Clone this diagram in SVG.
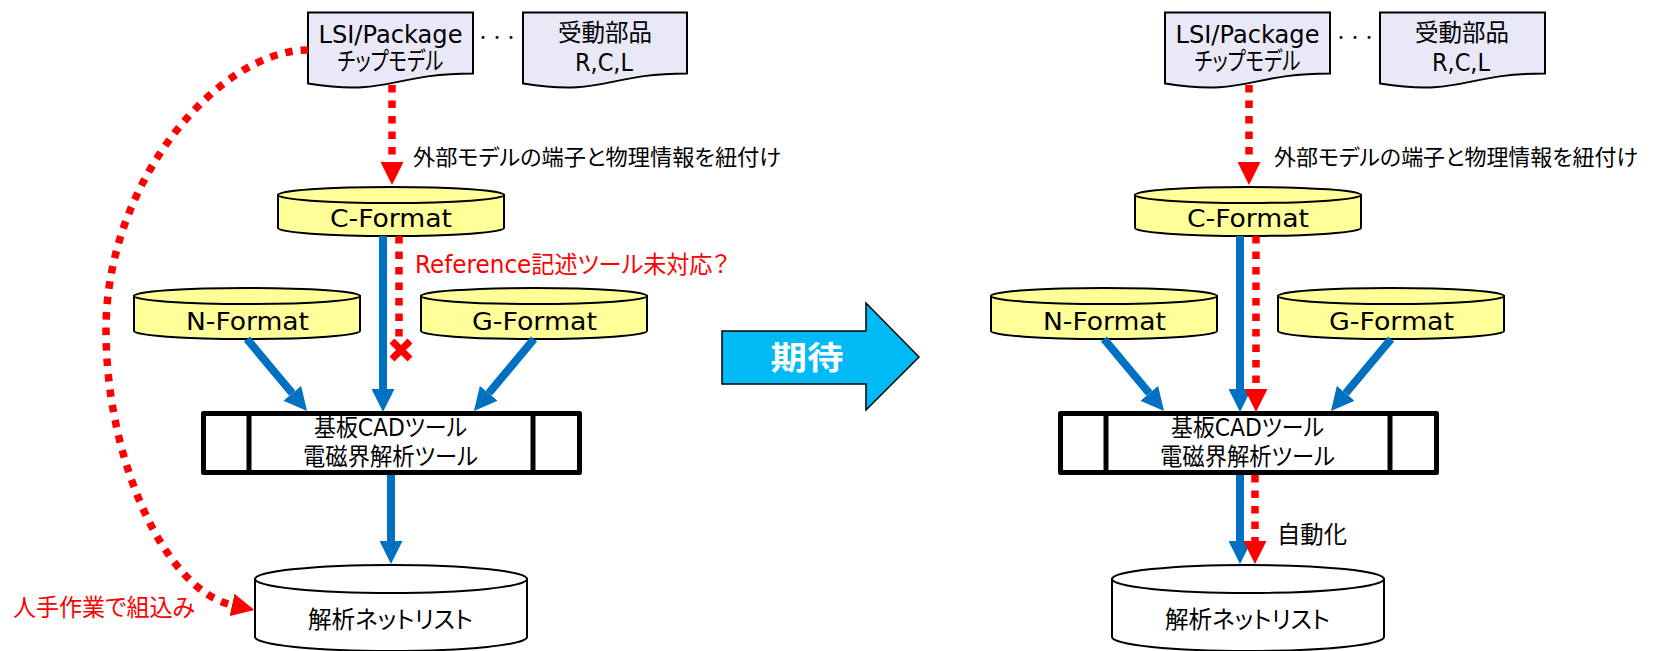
<svg xmlns="http://www.w3.org/2000/svg" width="1656" height="651" viewBox="0 0 1656 651">
<style>
.t{font-family:"DejaVu Sans","Noto Sans CJK JP",sans-serif;font-size:24px;fill:#000;font-feature-settings:"palt"}
.d{font-family:"Noto Sans CJK JP",sans-serif;font-size:14px;fill:#000}
.k{font-size:25px}
.s{font-size:22px}
.r{fill:#FF0000}
.m{text-anchor:middle}
.doc{fill:#E8E8F7;stroke:#000;stroke-width:2}
.cyl{fill:#FFFF99;stroke:#000;stroke-width:2}
.net{fill:#FFFFFF;stroke:#000;stroke-width:2}
.box{fill:#FFFFFF;stroke:#000;stroke-width:5;stroke-linejoin:round}
.blue{fill:none;stroke:#0070C0;stroke-width:8;marker-end:url(#ab)}
.red{fill:none;stroke:#FF0000;stroke-width:7.5;stroke-dasharray:7.5 8}
.reda{marker-end:url(#ar)}
</style>
<defs>
<marker id="ab" markerUnits="userSpaceOnUse" viewBox="0 0 23 23" refX="0" refY="11.5" markerWidth="23" markerHeight="23" orient="auto"><path d="M0,0 L23,11.5 L0,23 Z" fill="#0070C0"/></marker>
<marker id="ar" markerUnits="userSpaceOnUse" viewBox="0 0 23 23" refX="0" refY="11.5" markerWidth="23" markerHeight="23" orient="auto"><path d="M0,0 L23,11.5 L0,23 Z" fill="#FF0000"/></marker>
</defs>

<!-- LEFT SIDE -->
<g id="L-lsi">
<path class="doc" d="M308,12.5 H473 V73.5 C390.5,73.5 390.5,96.6 308,83.5 Z"/>
<text class="t m" x="390.5" y="43" textLength="144" lengthAdjust="spacingAndGlyphs">LSI/Package</text>
<text class="t m k" x="390.5" y="70" textLength="106" lengthAdjust="spacingAndGlyphs">チップモデル</text>
</g>
<g id="L-dots"><text class="d m" x="497" y="42">・・・</text></g>
<g id="L-passive">
<path class="doc" d="M523,12.5 H687 V73.5 C605,73.5 605,96.6 523,83.5 Z"/>
<text class="t m" x="605" y="41" textLength="94" lengthAdjust="spacingAndGlyphs">受動部品</text>
<text class="t m" x="604" y="71" textLength="58" lengthAdjust="spacingAndGlyphs">R,C,L</text>
</g>
<g id="L-cformat">
<path class="cyl" d="M278,195 V228 A113,8 0 0 0 504,228 V195 Z"/>
<ellipse class="cyl" cx="391" cy="195" rx="113" ry="8"/>
<text class="t m" x="391" y="227" textLength="122" lengthAdjust="spacingAndGlyphs">C-Format</text>
</g>
<g id="L-nformat">
<path class="cyl" d="M134,296 V331 A113,8 0 0 0 360,331 V296 Z"/>
<ellipse class="cyl" cx="247" cy="296" rx="113" ry="8"/>
<text class="t m" x="247.5" y="330" textLength="123" lengthAdjust="spacingAndGlyphs">N-Format</text>
</g>
<g id="L-gformat">
<path class="cyl" d="M421,296 V331 A113,8 0 0 0 647,331 V296 Z"/>
<ellipse class="cyl" cx="534" cy="296" rx="113" ry="8"/>
<text class="t m" x="534.5" y="330" textLength="125" lengthAdjust="spacingAndGlyphs">G-Format</text>
</g>
<g id="L-tool">
<rect class="box" x="203.5" y="413.5" width="376" height="59"/>
<line x1="249" y1="414" x2="249" y2="472" stroke="#000" stroke-width="5"/>
<line x1="533" y1="414" x2="533" y2="472" stroke="#000" stroke-width="5"/>
<text class="t m" x="390.5" y="436" textLength="153" lengthAdjust="spacingAndGlyphs">基板CADツール</text>
<text class="t m" x="390.5" y="465" textLength="175" lengthAdjust="spacingAndGlyphs">電磁界解析ツール</text>
</g>
<g id="L-netlist">
<path class="net" d="M255,579 V637 A136,14 0 0 0 527,637 V579 Z"/>
<ellipse class="net" cx="391" cy="579" rx="136" ry="14"/>
<text class="t m" x="390.5" y="628" textLength="165" lengthAdjust="spacingAndGlyphs">解析ネットリスト</text>
</g>

<!-- BIG ARROW -->
<g id="expect">
<path d="M722,331 H866 V303 L919,357 L866,410 V384 H722 Z" fill="#00BAF5" stroke="#000" stroke-width="1.5"/>
<text class="t m" x="807" y="369" style="font-size:32px;font-weight:bold;fill:#fff" textLength="73" lengthAdjust="spacingAndGlyphs">期待</text>
</g>

<!-- RIGHT SIDE -->
<g id="R-lsi">
<path class="doc" d="M1165,12.5 H1330 V73.5 C1247.5,73.5 1247.5,96.6 1165,83.5 Z"/>
<text class="t m" x="1247.5" y="43" textLength="144" lengthAdjust="spacingAndGlyphs">LSI/Package</text>
<text class="t m k" x="1247.5" y="70" textLength="106" lengthAdjust="spacingAndGlyphs">チップモデル</text>
</g>
<g id="R-dots"><text class="d m" x="1355" y="42">・・・</text></g>
<g id="R-passive">
<path class="doc" d="M1380,12.5 H1545 V73.5 C1462.5,73.5 1462.5,96.6 1380,83.5 Z"/>
<text class="t m" x="1462" y="41" textLength="94" lengthAdjust="spacingAndGlyphs">受動部品</text>
<text class="t m" x="1461" y="71" textLength="58" lengthAdjust="spacingAndGlyphs">R,C,L</text>
</g>
<g id="R-cformat">
<path class="cyl" d="M1135,195 V228 A113,8 0 0 0 1361,228 V195 Z"/>
<ellipse class="cyl" cx="1248" cy="195" rx="113" ry="8"/>
<text class="t m" x="1248" y="227" textLength="122" lengthAdjust="spacingAndGlyphs">C-Format</text>
</g>
<g id="R-nformat">
<path class="cyl" d="M991,296 V331 A113,8 0 0 0 1217,331 V296 Z"/>
<ellipse class="cyl" cx="1104" cy="296" rx="113" ry="8"/>
<text class="t m" x="1104.5" y="330" textLength="123" lengthAdjust="spacingAndGlyphs">N-Format</text>
</g>
<g id="R-gformat">
<path class="cyl" d="M1278,296 V331 A113,8 0 0 0 1504,331 V296 Z"/>
<ellipse class="cyl" cx="1391" cy="296" rx="113" ry="8"/>
<text class="t m" x="1391.5" y="330" textLength="125" lengthAdjust="spacingAndGlyphs">G-Format</text>
</g>
<g id="R-tool">
<rect class="box" x="1060.5" y="413.5" width="376" height="59"/>
<line x1="1106" y1="414" x2="1106" y2="472" stroke="#000" stroke-width="5"/>
<line x1="1390" y1="414" x2="1390" y2="472" stroke="#000" stroke-width="5"/>
<text class="t m" x="1247.5" y="436" textLength="153" lengthAdjust="spacingAndGlyphs">基板CADツール</text>
<text class="t m" x="1247.5" y="465" textLength="175" lengthAdjust="spacingAndGlyphs">電磁界解析ツール</text>
</g>
<g id="R-netlist">
<path class="net" d="M1112,579 V637 A136,14 0 0 0 1384,637 V579 Z"/>
<ellipse class="net" cx="1248" cy="579" rx="136" ry="14"/>
<text class="t m" x="1247.5" y="628" textLength="165" lengthAdjust="spacingAndGlyphs">解析ネットリスト</text>
</g>

<!-- CONNECTORS -->
<g id="connectors">
<!-- left -->
<path class="red reda" d="M392,85 V162"/>
<path class="red reda" d="M308,50 C220,50 106,180 106,330 C106,460 165,590 232,605"/>
<path class="blue" d="M383,236 V389"/>
<path class="red" d="M399,236 V338"/>
<path d="M392,341 L410,359 M410,341 L392,359" stroke="#FF0000" stroke-width="7" fill="none"/>
<path class="blue" d="M247,339 L292.3,393.3"/>
<path class="blue" d="M534,339 L488.7,393.3"/>
<path class="blue" d="M391,475 V541"/>
<!-- right -->
<path class="red reda" d="M1249,85 V162"/>
<path class="blue" d="M1240,236 V389"/>
<path class="red reda" d="M1256,236 V389"/>
<path class="blue" d="M1104,339 L1149.3,393.3"/>
<path class="blue" d="M1391,339 L1345.7,393.3"/>
<path class="blue" d="M1240,475 V541"/>
<path class="red reda" d="M1255,475 V541"/>
</g>

<!-- LABELS -->
<g id="labels">
<text class="t s" x="413" y="165" textLength="368" lengthAdjust="spacingAndGlyphs">外部モデルの端子と物理情報を紐付け</text>
<text class="t r" x="415" y="273" textLength="314" lengthAdjust="spacingAndGlyphs">Reference記述ツール未対応？</text>
<text class="t r" x="13" y="616" textLength="182" lengthAdjust="spacingAndGlyphs">人手作業で組込み</text>
<text class="t s" x="1274" y="165" textLength="364" lengthAdjust="spacingAndGlyphs">外部モデルの端子と物理情報を紐付け</text>
<text class="t" x="1277" y="543" textLength="70" lengthAdjust="spacingAndGlyphs">自動化</text>
</g>
</svg>
